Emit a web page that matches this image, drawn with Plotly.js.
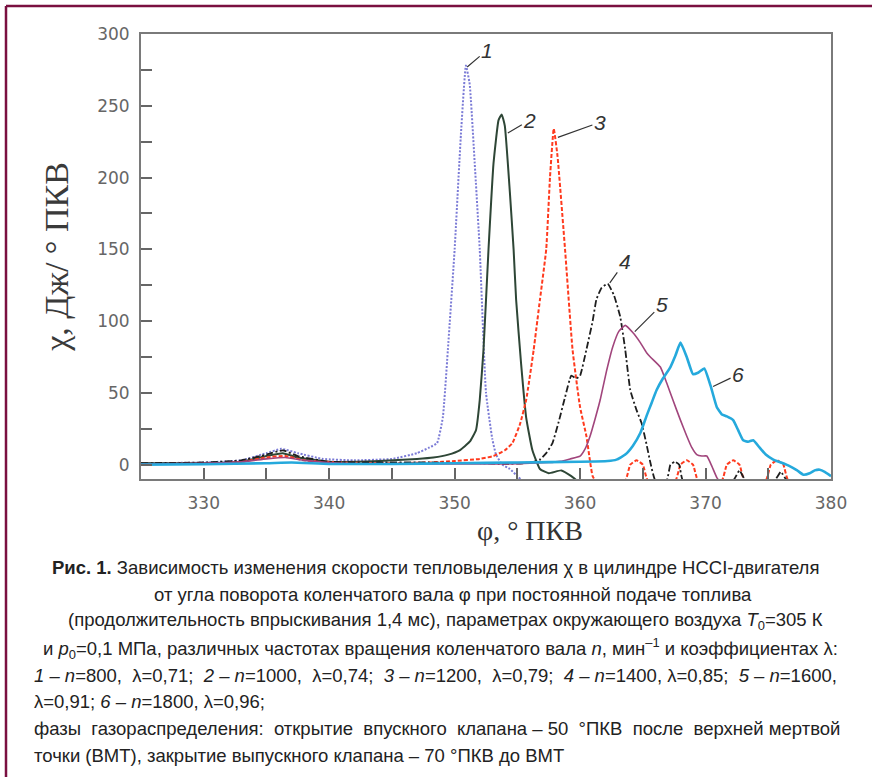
<!DOCTYPE html>
<html><head><meta charset="utf-8">
<script src="https://cdn.plot.ly/plotly-3.0.1.min.js"></script>
<style>html,body{margin:0;padding:0;background:#fff}#chart{width:872px;height:777px}</style>
</head><body><div id="chart"></div>
<script>
// Series 1: n=800
const x1=[325,330,333,335,336.2,337.5,339.5,342,345,347,348,348.6,349.06,349.5,350.0,350.5,350.9,351.2,351.6,352.0,352.5,353.0,353.3,353.8,354.4,355.0,355.6];
const y1=[1,1.5,3,8,11,8,4,3,4,8,12,15,33,85,150,230,278,265,210,150,50,18,7,0,-3,-8,-13];
// Series 2: n=1000
const x2=[325,330,333,335,336.3,337.5,340,344,347,348.3,349.5,350.4,351.2,351.7,352.0,352.3,352.7,353.1,353.5,353.75,354.0,354.4,354.7,354.9,355.3,355.7,356.2,356.8,357.5,358.5,359.3,360.0];
const y2=[1,1,2,6,8,5,2,2.5,4,5,7,10,16,24,45,80,150,210,240,244,236,190,150,115,70,33,10,-3,-6,-4,-8,-13];
// Series 3: n=1200
const x3=[325,330,333,335,336.5,338,341,345,348,350,352,353.1,354.0,354.6,355.2,355.7,356.3,356.8,357.3,357.6,357.9,358.2,358.8,359.4,360.0,360.5,361.0,361.4,363.6,364.0,364.5,365.0,365.4,367.6,368.0,368.5,369.0,369.4,371.3,371.7,372.2,372.7,373.1,374.8,375.2,375.7,376.2,376.6,380];
const y3=[0.5,0.5,2,5,6,3,1.5,1,1.5,2.5,4,6,10,15,28,45,80,115,150,200,234,215,150,80,40,20,-8,-13,-11,0,3,0,-11,-11,0,3,0,-11,-11,0,3,0,-11,-11,0,3,0,-11,-13];
// Series 4: n=1400
const x4=[325,330,333,335,336.3,337.5,340,344,348,352,354,355.5,356.3,356.8,357.3,357.8,358.3,358.8,359.3,359.7,360.0,360.5,361.0,361.3,361.7,362.2,362.7,363.2,363.6,364.0,364.5,364.9,365.3,365.6,366.0,366.9,367.2,367.55,367.9,368.2,372.2,372.7,373.2,375.5,376.0,376.5,380];
const y4=[1,1.5,3,7,10,6,2,1.5,1.5,1,0.5,1,2,3.5,8,15,30,47,62,60,62,80,100,115,123,126,118,103,80,52,38,29,14,1.5,-11,-11,0,2,0,-11,-11,-4,-11,-11,-5,-11,-13];
// Series 5: n=1600
const x5=[325,330,333,335,336.5,338,341,345,350,354,356,357.5,358.4,359.2,360.0,360.4,360.8,361.2,361.6,362.1,362.6,363.1,363.6,364.2,364.8,365.3,365.6,366.4,366.9,367.4,368.0,368.5,368.9,369.3,369.7,370.1,370.5,370.9,371.3,380];
const y5=[0.5,1,2,4,5,3,1,0.5,0.5,0.5,1,1.5,2.3,4,6,11,20,32,45,65,82,93,97,92,85,78,75,68,57,45,31,20,12,7,6,6,-1,-9,-13,-13];
// Series 6: n=1800
const x6=[325,330,335,337,340,345,350,355,360,362.2,362.9,363.6,364.2,364.8,365.3,365.7,366.1,366.6,367.2,367.6,368.0,368.5,369.0,369.4,369.9,370.4,370.9,371.3,371.7,372.2,372.6,373.0,373.4,373.8,374.3,374.8,375.4,376.0,376.7,377.3,377.8,378.3,378.7,379.1,379.5,380];
const y6=[0,0.3,1,1.5,0.5,0.5,1,1.5,2,2.5,3.5,7,13,22,34,43,52,60,68,76,85,75,63,64,67,55,40,35,33.6,31,24,17,16,17,12,7,3.5,1.5,-1,-4,-7,-6,-4,-3.5,-5,-8];

// Curve labels
const labelText=['1','2','3','4','5','6'];
const labelX=[351.0,354.24,358.23,362.37,364.36,370.6];
const labelY=[277,231,228,126.6,92.7,54.4];
const labelAx=[20,22,42,15,27,25];
const labelAy=[-17,-13,-15,-21,-27,-12];

// Axis ticks
const xTicks=[330,340,350,360,370,380];
const yTicks=[0,50,100,150,200,250,300];

const S='\u00a0';
const captionLines=[
 '<b>Рис. 1.</b> Зависимость изменения скорости тепловыделения χ в цилиндре HCCI-двигателя',
 'от угла поворота коленчатого вала φ при постоянной подаче топлива',
 '(продолжительность впрыскивания 1,4 мс), параметрах окружающего воздуха <i>T</i><sub>0</sub>=305 К',
 'и <i>p</i><sub>0</sub>=0,1 МПа, различных частотах вращения коленчатого вала <i>n</i>, мин<sup>–1</sup> и коэффициентах λ:',
 '<i>1 – n</i>=800,'+S+' λ=0,71;'+S+' <i>2 – n</i>=1000,'+S+' λ=0,74;'+S+' <i>3 – n</i>=1200,'+S+' λ=0,79;'+S+' <i>4 – n</i>=1400, λ=0,85;'+S+' <i>5 – n</i>=1600,',
 'λ=0,91; <i>6 – n</i>=1800, λ=0,96;',
 'фазы'+S+' газораспределения:'+S+' открытие'+S+' впускного'+S+' клапана – 50'+S+' °ПКВ'+S+' после'+S+' верхней мертвой',
 'точки (ВМТ), закрытие выпускного клапана – 70 °ПКВ до ВМТ'
];

const W=872,H=777,L=141,R=41,T=34,B=298;
const pw=W-L-R, ph=H-T-B;
const px=(p)=>(p-L)/pw;
const py=(p)=>(H-B-p)/ph;

const colors=['#7b7bd6','#2e4636','#ff3a1e','#1e1e1e','#a1457c','#25a9dc'];
const dashes=['2px,1.6px','solid','4px,2px','7px,2.5px,2px,2.5px','solid','solid'];
const widths=[2,2,2,1.8,1.6,2.6];
const xs=[x1,x2,x3,x4,x5,x6], ys=[y1,y2,y3,y4,y5,y6];

const traces=xs.map((x,i)=>({x:x,y:ys[i],type:'scatter',mode:'lines',name:labelText[i],
  line:{color:colors[i],width:widths[i],dash:dashes[i],shape:'spline',smoothing:0.4},hoverinfo:'skip'}));

const annotations=labelText.map((t,i)=>({x:labelX[i],y:labelY[i],xref:'x',yref:'y',text:t,
  showarrow:true,arrowhead:0,arrowwidth:1.2,arrowcolor:'#333',ax:labelAx[i],ay:labelAy[i],
  font:{family:'Liberation Sans, Arial, sans-serif',size:21,color:'#333',style:'italic'}}));

annotations.push({xref:'paper',yref:'paper',x:px(530),y:py(530),xanchor:'center',yanchor:'middle',
  text:'φ, ° ПКВ',showarrow:false,font:{family:'Liberation Serif, Times New Roman, serif',size:28,color:'#333'}});

const capY=[567,594,621,648,675,701,728,755];
const capAlign=['c','c','c','c','l','l','l','l'];
const capCx=[435,453,445,440];
captionLines.forEach((t,i)=>{
  const centered=capAlign[i]==='c';
  annotations.push({xref:'paper',yref:'paper',x:centered?px(capCx[i]):px(32),y:py(capY[i]),
    xanchor:centered?'center':'left',yanchor:'middle',text:t,showarrow:false,
    font:{family:'Liberation Sans, Arial, sans-serif',size:18.5,color:'#222'}});
});

const shapes=[
  {type:'line',xref:'paper',yref:'paper',x0:px(6),x1:px(6),y0:py(6),y1:py(777),line:{color:'#7a1040',width:2.5}},
  {type:'line',xref:'paper',yref:'paper',x0:px(6),x1:px(872),y0:py(6),y1:py(6),line:{color:'#7a1040',width:2.5}}
];

const axisCommon={showgrid:false,zeroline:false,showline:true,linecolor:'#7a7a7a',linewidth:2,mirror:true,
  ticks:'inside',ticklen:11,tickwidth:2,tickcolor:'#666',
  tickfont:{family:'DejaVu Sans, Verdana, sans-serif',size:17,color:'#666'}};

const layout={
  width:W,height:H,margin:{l:L,r:R,t:T,b:B},paper_bgcolor:'#fff',plot_bgcolor:'#fff',showlegend:false,
  xaxis:Object.assign({},axisCommon,{range:[325,380],tickvals:xTicks,ticktext:xTicks.map(String),ticklabelstandoff:8,
    minor:{dtick:5,tick0:325,ticks:'inside',ticklen:11,tickwidth:2,tickcolor:'#666',showgrid:false}}),
  yaxis:Object.assign({},axisCommon,{range:[-10,300],tickvals:yTicks,ticktext:yTicks.map(String),ticklabelstandoff:6,
    minor:{dtick:25,tick0:0,ticks:'inside',ticklen:11,tickwidth:2,tickcolor:'#666',showgrid:false},
    title:{text:'χ, Дж/ ° ПКВ',standoff:18,font:{family:'Liberation Serif, Times New Roman, serif',size:34,color:'#3a3a3a'}}}),
  annotations:annotations,shapes:shapes
};
Plotly.newPlot('chart',traces,layout,{staticPlot:true,displayModeBar:false});
</script></body></html>
